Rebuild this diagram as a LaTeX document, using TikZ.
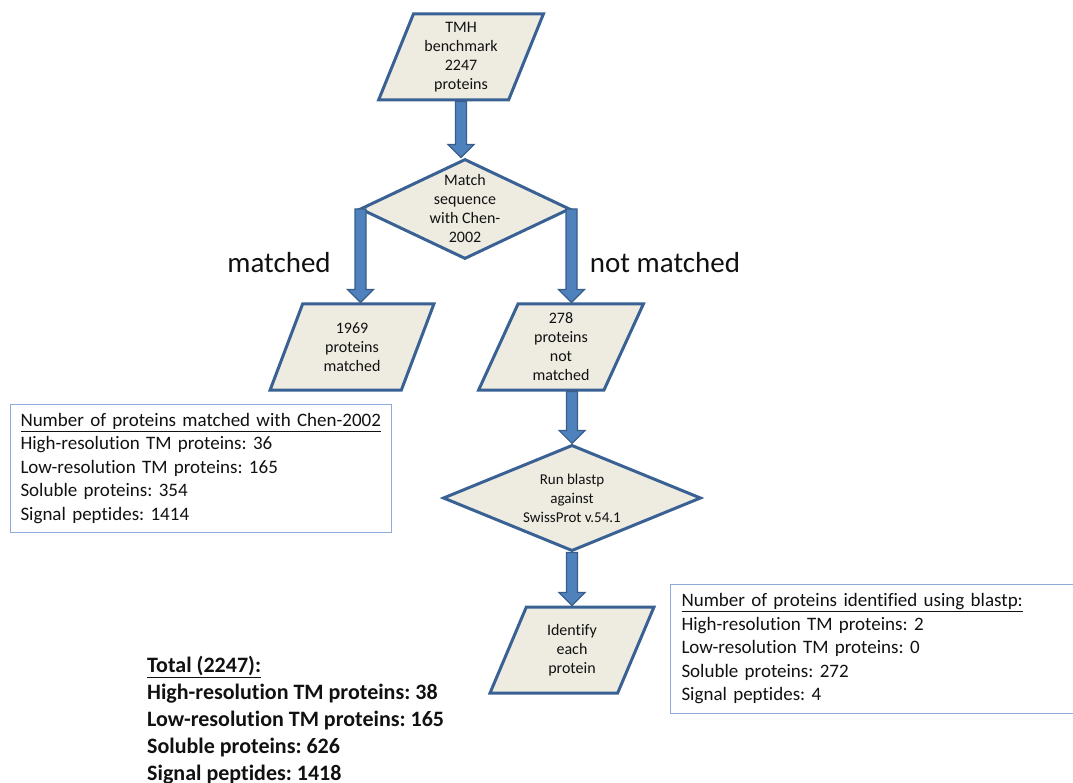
\documentclass[tikz,border=0pt]{standalone}
\usepackage{fontspec}
\setmainfont{Carlito}[Ligatures={NoCommon,NoContextual}]
\usepackage{tikz}
\usetikzlibrary{shapes.geometric,calc}
\definecolor{Ink}{HTML}{111111}
\definecolor{ShapeRim}{HTML}{3A6194}
\definecolor{ShapeFill}{HTML}{EEECE1}
\definecolor{ArrowBlue}{HTML}{4F81BD}
\definecolor{ArrowRim}{HTML}{385D8A}
\definecolor{NoteRim}{HTML}{8EAADB}
\frenchspacing

\begin{document}
\begin{tikzpicture}[x=1pt,y=-1pt]
  \path[use as bounding box] (0,0) rectangle (1073,783);
  \tikzset{
    tmData/.style={
      shape=trapezium, trapezium left angle=69, trapezium right angle=111,
      trapezium stretches=true, draw=ShapeRim, fill=ShapeFill, line width=3pt,
      minimum width=165pt, minimum height=86pt, inner sep=0pt,
      align=center, font=\fontsize{16}{19}\selectfont, text=Ink
    },
    tmTest/.style={
      shape=diamond, draw=ShapeRim, fill=ShapeFill, line width=3pt,
      inner sep=-10pt, align=center,
      font=\fontsize{16}{19}\selectfont, text=Ink
    },
    tmArrow/.style={
      draw=ArrowRim, fill=ArrowBlue, line width=1.2pt, line join=miter,
      to path={let \p1=(\tikztostart), \p2=(\tikztotarget) in
        (\x1-5.5pt,\y1) -- (\x1-5.5pt,\y2+13pt) -- (\x1-13pt,\y2+13pt)
        -- (\x1,\y2) -- (\x1+13pt,\y2+13pt) -- (\x1+5.5pt,\y2+13pt)
        -- (\x1+5.5pt,\y1) -- cycle}
    },
    tmNote/.style={
      draw=NoteRim, line width=1pt, anchor=north west, align=left,
      inner ysep=4pt, font=\fontsize{19}{23.5}\selectfont, text=Ink
    },
    tmBranch/.style={font=\fontsize{29}{34}\selectfont, text=Ink}
  }

  % flow
  \node[tmData] (bench) at (461,57) {TMH\\benchmark\\2247\\proteins};
  \node[tmTest, minimum width=210pt, minimum height=100pt] (chen) at (465,209)
    {Match\\sequence\\with Chen-\\2002};
  \node[tmData] (hit) at (352,347) {1969\\proteins\\matched};
  \node[tmData] (miss) at (561,347) {278\\proteins\\not\\matched};
  \node[tmTest, minimum width=258pt, minimum height=97pt,
    font=\fontsize{15}{19}\selectfont] (blast) at (572,498)
    {Run blastp\\against\\SwissProt v.54.1};
  \node[tmData] (ident) at (572,650) {Identify\\each\\protein};

  \node[tmBranch] (lblhit) at (279,263) {matched};
  \node[tmBranch] (lblmiss) at (665,263) {not matched};

  \draw[tmArrow] (bench.south) to (chen.north);
  \draw[tmArrow] ([xshift=2pt]chen.west) to (hit.north);
  \draw[tmArrow] (chen.east) to (miss.north);
  \draw[tmArrow] (miss.south -| blast.north) to (blast.north);
  \draw[tmArrow] (blast.south) to (ident.north);

  % counts
  \node[tmNote, text width=361pt, inner xsep=10pt, minimum height=128pt]
    (chennote) at (10,404)
    {\underline{Number of proteins matched with Chen-2002}\\
     High-resolution TM proteins: 36\\
     Low-resolution TM proteins: 165\\
     Soluble proteins: 354\\
     Signal peptides: 1414};
  \node[tmNote, text width=383pt, inner xsep=11pt, minimum height=129pt]
    (blastnote) at (670,584)
    {\underline{Number of proteins identified using blastp:}\\
     High-resolution TM proteins: 2\\
     Low-resolution TM proteins: 0\\
     Soluble proteins: 272\\
     Signal peptides: 4};
  \node[anchor=north west, align=left, inner sep=0pt, text=Ink,
    font=\bfseries\fontsize{22}{27}\selectfont] (total) at (147,656)
    {\underline{Total (2247):}\\
     High-resolution TM proteins: 38\\
     Low-resolution TM proteins: 165\\
     Soluble proteins: 626\\
     Signal peptides: 1418};
\end{tikzpicture}
\end{document}
